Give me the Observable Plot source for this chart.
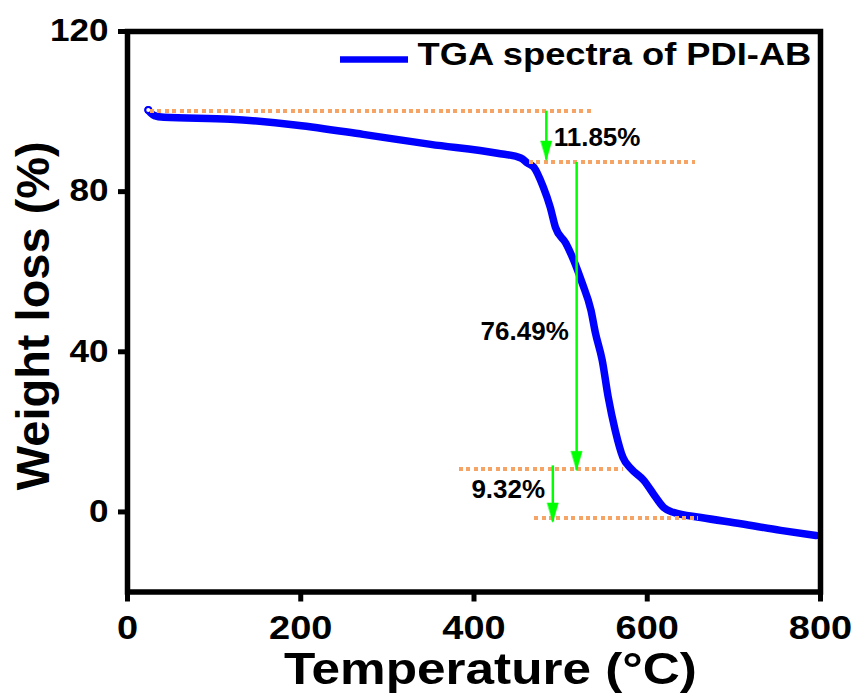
<!DOCTYPE html>
<html><head><meta charset="utf-8">
<script src="https://cdn.jsdelivr.net/npm/d3@7"></script>
<script src="https://cdn.jsdelivr.net/npm/@observablehq/plot@0.6"></script>
<style>body{margin:0;background:#fff}</style>
</head><body><div id="chart"></div>
<script>
// TGA curve (temperature °C, weight %)
const temperature = [24, 27, 31, 42, 119, 196, 272, 350, 427, 454, 462, 469, 480, 488, 494, 506, 515, 525, 535, 540, 548, 555, 563, 572, 581, 596, 610, 619, 630, 662, 708, 754, 795];
const weight      = [100.4, 99.6, 99.0, 98.6, 98.1, 96.6, 94.3, 91.8, 89.6, 88.4, 87.1, 86.1, 81.1, 76.1, 71.1, 67.1, 62.9, 57.1, 50.4, 44.9, 37.9, 28.6, 20.4, 13.6, 10.9, 7.9, 3.6, 1.1, -0.1, -1.4, -2.95, -4.6, -5.9];

const xTicks = [0, 200, 400, 600, 800];
const yTicks = [0, 40, 80, 120];

// dotted reference levels
const refY  = [100.1, 87.3, 10.6, -1.4];
const refX1 = [26.6, 464, 383, 470];
const refX2 = [537, 656, 573, 659];

// green arrows
const arrowX    = [483.5, 518.5, 491];
const arrowFrom = [100.1, 87.3, 11.5];
const arrowTo   = [87.9, 10.4, -2.5];

// percentage labels
const labelText = ["11.85%", "76.49%", "9.32%"];
const labelX    = [492, 407.6, 397];
const labelY    = [93.6, 44.95, 5.6];

const seriesName = "TGA spectra of PDI-AB";
const xTitle = "Temperature (°C)";
const yTitle = "Weight loss (%)";

const curve = temperature.map((t, i) => ({t, w: weight[i]}));
const refIdx = refY.map((_, i) => i);
const arrIdx = arrowX.map((_, i) => i);
const lblIdx = labelText.map((_, i) => i);

const arrowHead = {
  draw(context, l) {
    context.moveTo(0, -l);
    context.lineTo(-5.5, 0);
    context.lineTo(5.5, 0);
    context.closePath();
  }
};

const chart = Plot.plot({
  width: 857,
  height: 693,
  marginLeft: 127,
  marginRight: 37,
  marginTop: 31,
  marginBottom: 101.5,
  style: {fontFamily: "'Liberation Sans', Arial, sans-serif", background: "#fff", color: "#000"},
  x: {domain: [0, 800]},
  y: {domain: [-20, 120]},
  marks: [
    Plot.line(curve, {x: "t", y: "w", stroke: "#0000ff", strokeWidth: 7.5, curve: "monotone-x"}),
    Plot.dot([curve[0]], {x: "t", y: "w", r: 3, stroke: "#0000ff", strokeWidth: 2, fill: "#fff"}),
    Plot.ruleY(refIdx, {y: i => refY[i], x1: i => refX1[i], x2: i => refX2[i],
      stroke: "#f5a465", strokeWidth: 4, strokeDasharray: "4,3.4", shapeRendering: "crispEdges"}),
    Plot.ruleX(arrIdx, {x: i => arrowX[i], y1: i => arrowFrom[i], y2: i => arrowTo[i],
      stroke: "#00ff00", strokeWidth: 2.5}),
    Plot.vector(arrIdx, {x: i => arrowX[i], y: i => arrowTo[i], rotate: 180, anchor: "end",
      length: 19, shape: arrowHead, fill: "#00ff00", stroke: "#00ff00", strokeWidth: 0.5}),
    Plot.text(lblIdx, {x: i => labelX[i], y: i => labelY[i], text: i => labelText[i],
      textAnchor: "start", fontSize: 26, fontWeight: "bold", fill: "#000"}),
    Plot.frame({stroke: "#000", strokeWidth: 5.5}),
    Plot.axisX({ticks: xTicks, tickSize: 10, strokeWidth: 5, fontSize: 33, fontWeight: "bold",
      tickPadding: 13.5, label: null, fill: "#000"}),
    Plot.axisY({ticks: yTicks, tickSize: 9, strokeWidth: 5, fontSize: 30.5, fontWeight: "bold",
      tickPadding: 10, label: null, fill: "#000"}),
    Plot.text([xTitle], {text: d => d, frameAnchor: "bottom", dx: 16.5, dy: 77.5,
      textAnchor: "middle", lineAnchor: "middle", fontSize: 45, fontWeight: "bold", fill: "#000"}),
    Plot.text([yTitle], {text: d => d, frameAnchor: "left", dx: -94, dy: 4, rotate: -90,
      textAnchor: "middle", lineAnchor: "middle", fontSize: 47, fontWeight: "bold", fill: "#000"}),
    Plot.text([seriesName], {text: d => d, frameAnchor: "top-left", dx: 290, dy: 24,
      textAnchor: "start", lineAnchor: "middle", fontSize: 30.5, fontWeight: "bold", fill: "#000"})
  ]
});

document.getElementById("chart").appendChild(chart);

// horizontal stretch of some texts (the reference image is slightly widened)
const isNum = s => s != null && /^\s*-?[\d.]+(px)?\s*$/.test(s);
function stretchEl(node, sx, sy) {
  const el = d3.select(node);
  const t = el.attr("transform") || "";
  let pre = "";
  const ax = el.attr("x"), ay = el.attr("y");
  if (isNum(ax) || isNum(ay)) {
    const x = isNum(ax) ? parseFloat(ax) : 0;
    const y = isNum(ay) ? parseFloat(ay) : 0;
    if (isNum(ax)) el.attr("x", null);
    if (isNum(ay)) el.attr("y", null);
    pre = ` translate(${x},${y})`;
  }
  el.attr("transform", `${t}${pre} scale(${sx},${sy})`);
}
const tickStrings = new Set([...xTicks, ...yTicks].map(String));
chart.querySelectorAll("text").forEach(node => {
  const s = node.textContent;
  if (tickStrings.has(s)) stretchEl(node, 1.15, 1);
  else if (s === xTitle) stretchEl(node, 1.14, 1);
  else if (s === seriesName) stretchEl(node, 1.19, 1);
});

// legend line sample
d3.select(chart).append("line")
  .attr("x1", 340).attr("x2", 408).attr("y1", 59.5).attr("y2", 59.5)
  .attr("stroke", "#0000ff").attr("stroke-width", 6.5);
</script>
</body></html>
